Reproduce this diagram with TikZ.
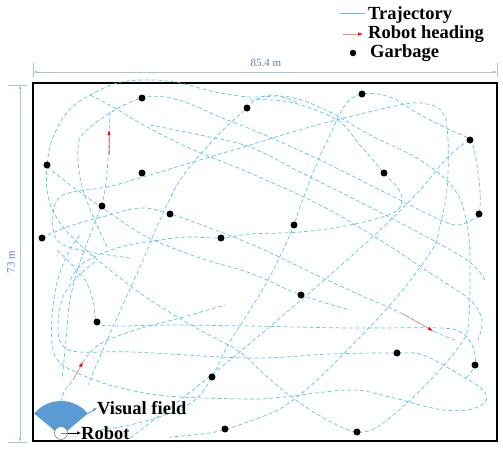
\documentclass[tikz,border=0pt]{standalone}
\usepackage{fontspec}
\setmainfont{Liberation Serif}
\usetikzlibrary{arrows.meta}
\definecolor{trajc}{RGB}{92,196,236}
\definecolor{dimc}{RGB}{160,196,230}
\definecolor{dimtxt}{RGB}{95,125,180}
\definecolor{fieldc}{RGB}{91,155,213}
\definecolor{headline}{RGB}{255,130,130}
\tikzset{
  traj/.style={trajc, line width=0.7pt, dash pattern=on 4pt off 2.5pt},
  gdot/.style={circle, fill=black, inner sep=0pt, minimum size=7pt},
  heading/.style={headline, line width=0.6pt, -{Latex[length=5pt,width=3.5pt,color=red]}},
  dimline/.style={dimc, line width=1pt},
  dimarrow/.style={dimc, line width=1pt, {Latex[length=4pt,width=3pt]}-{Latex[length=4pt,width=3pt]}},
  lbl/.style={font=\bfseries\fontsize{18.5}{18.5}\selectfont, inner sep=0pt, anchor=west},
  dimlbl/.style={dimtxt, font=\fontsize{11}{11}\selectfont, inner sep=0pt},
}
\begin{document}
\begin{tikzpicture}[x=1pt,y=-1pt]
\useasboundingbox (0,0) rectangle (503,451);

% legend
\coordinate (la) at (340,13); \coordinate (lb) at (365,13);
\draw[trajc, line width=0.7pt] (la) -- (lb);
\node[lbl] (ltraj) at (368,15) {Trajectory};
\coordinate (ha) at (343,34); \coordinate (hb) at (363,34);
\draw[heading] (ha) -- (hb);
\node[lbl] (lhead) at (368,34) {Robot heading};
\node[gdot, minimum size=6.5pt] (lgdot) at (353,53) {};
\node[lbl] (lgarb) at (370,53) {Garbage};

% dimensions
\coordinate (tl1) at (33,63); \coordinate (tl2) at (33,77);
\coordinate (tr1) at (497,63); \coordinate (tr2) at (497,77);
\draw[dimline] (tl1) -- (tl2); \draw[dimline] (tr1) -- (tr2);
\coordinate (ta) at (33,72); \coordinate (tb) at (497,72);
\draw[dimarrow] (ta) -- (tb);
\node[dimlbl] (wlbl) at (266,63) {85.4 m};
\coordinate (lt1) at (8,85); \coordinate (lt2) at (27,85);
\coordinate (lb1) at (8,442); \coordinate (lb2) at (27,442);
\draw[dimline] (lt1) -- (lt2); \draw[dimline] (lb1) -- (lb2);
\coordinate (va) at (20,85); \coordinate (vb) at (20,442);
\draw[dimarrow] (va) -- (vb);
\node[dimlbl, rotate=90] (hlbl) at (11,262) {73 m};

% field border
\draw[black, line width=2.2pt] (33,83) rectangle (497,441);

% trajectory
\draw[traj] plot[smooth, tension=0.6] coordinates {(95,262) (77,277) (63,297) (58,325) (62,345) (80,352) (133,352) (250,358) (330,354) (397,353) (423,355) (457,373) (483,390) (485,402) (467,410) (437,409) (390,397) (350,390) (283,397) (250,399) (167,396) (117,387) (87,377) (63,365) (53,350) (52,317) (57,283) (67,255) (80,235)};
\draw[traj] plot[smooth, tension=0.6] coordinates {(57,250) (83,277) (93,300) (97,322) (115,326) (170,325) (250,326) (350,328) (440,328) (462,333) (473,347) (475,365) (466,378)};
\draw[traj] plot[smooth, tension=0.6] coordinates {(130,258) (80,250) (57,240) (53,215) (63,195) (107,187) (143,177) (200,160) (250,145) (317,125) (400,105) (427,104) (443,113) (448,140) (447,190) (440,225) (432,250) (397,297) (360,337) (317,380) (283,407) (253,420) (215,432) (170,437)};
\draw[traj] plot[smooth, tension=0.6] coordinates {(107,247) (83,190) (78,147) (87,130) (115,110) (142,98) (165,97) (190,104) (220,117) (260,133) (320,160) (380,190) (430,215) (455,225) (472,220) (479,214) (480,190) (476,160) (470,140) (450,130) (417,113) (390,97) (362,94) (345,105) (330,135) (317,163) (300,207) (294,225) (283,250) (268,280) (250,310) (228,345) (212,377) (195,400) (165,415) (130,425) (100,430)};
\draw[traj] plot[smooth, tension=0.6] coordinates {(250,100) (290,102) (337,120) (360,145) (384,173) (397,187) (402,200) (393,213) (350,225) (300,232) (250,234) (221,238) (187,237) (160,240) (120,247) (85,262) (70,280)};
\draw[traj] plot[smooth, tension=0.6] coordinates {(47,164) (52,140) (65,115) (83,99) (117,83) (150,80) (180,83) (215,92) (250,97) (290,97) (330,112) (370,135) (420,160) (455,190) (468,230) (470,280) (468,327) (460,345) (437,373) (407,403) (377,427) (357,432) (333,423) (300,403) (267,377) (240,352) (200,330) (150,300) (110,270) (75,240) (55,215) (47,190) (47,164)};
\draw[traj] plot[smooth, tension=0.6] coordinates {(297,102) (273,95) (255,100) (247,108) (225,128) (207,147) (180,180) (160,220) (143,260) (125,300) (105,345) (88,385)};
\draw[traj] plot[smooth, tension=0.6] coordinates {(47,167) (77,190) (110,213) (147,237) (200,258) (250,273) (301,295) (350,310)};
\draw[traj] plot[smooth, tension=0.6] coordinates {(42,238) (67,227) (102,217) (140,208) (170,214) (210,228) (260,248) (310,272) (360,295) (403,314) (433,331) (455,340)};
\draw[traj] plot[smooth, tension=0.6] coordinates {(90,95) (115,108) (140,123) (187,147) (250,173) (320,205) (380,240) (433,275) (470,300) (482,320) (478,340)};
\draw[traj] plot[smooth, tension=0.6] coordinates {(150,125) (200,135) (250,147) (300,172) (350,197) (410,228) (467,260) (485,280)};
\draw[traj] plot[smooth, tension=0.6] coordinates {(130,438) (180,400) (230,360) (280,318) (330,275) (380,230) (420,190) (445,160) (462,145) (470,140)};
\draw[traj] plot[smooth, tension=0.6] coordinates {(61,428) (61,402) (65,390) (73,380) (83,362) (100,344) (135,330) (180,318) (225,305)};
\draw[traj] plot[smooth, tension=0.6] coordinates {(110,112) (109,135) (108,160) (105,190) (101,206) (92,230) (80,262) (70,300) (66,340) (62,380)};

% heading arrows
\coordinate (h1a) at (109,155); \coordinate (h1b) at (109,130);
\coordinate (h2a) at (73,380); \coordinate (h2b) at (83,362);
\coordinate (h3a) at (403,314); \coordinate (h3b) at (433,331);
\draw[heading] (h1a) -- (h1b);
\draw[heading] (h2a) -- (h2b);
\draw[heading] (h3a) -- (h3b);

% garbage
\foreach \n/\p in {1/{(142,98)},2/{(247,108)},3/{(362,94)},4/{(470,140)},5/{(47,165)},6/{(142,173)},7/{(384,173)},8/{(102,206)},9/{(170,214)},10/{(479,214)},11/{(42,238)},12/{(221,238)},13/{(294,225)},14/{(301,295)},15/{(97,322)},16/{(397,353)},17/{(475,365)},18/{(212,377)},19/{(225,429)},20/{(357,432)}}
  \node[gdot] (g\n) at \p {};

% visual field and robot
\coordinate (apex) at (61,436);
\fill[fieldc] (apex) -- ++(-40:35) coordinate (vfr) arc[start angle=-40, end angle=-140, radius=35] -- cycle;
\node[circle, draw=gray, fill=white, line width=0.6pt, minimum size=13pt, inner sep=0pt] (robot) at (61,433) {};
\draw[gray, line width=0.5pt] (robot.center) -- (robot.east);
\node[lbl] (vftxt) at (97,408) {Visual field};
\node[lbl] (robtxt) at (81,433) {Robot};
\draw[fieldc, line width=0.8pt, -{Latex[length=4pt,width=3.5pt]}] (vfr) -- (vftxt.west);
\draw[black, line width=0.6pt, -{Latex[length=4pt,width=3.5pt]}] (robot.east) -- (robtxt.west);
\end{tikzpicture}
\end{document}
